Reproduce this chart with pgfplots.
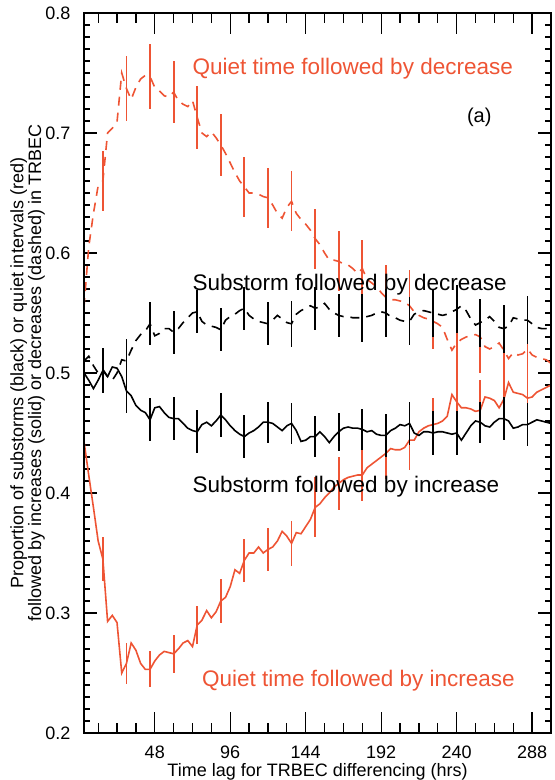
\documentclass[border=0pt]{standalone}
\usepackage{fontspec}
\setmainfont{Liberation Sans}
\usepackage{pgfplots}
\usepackage{pgfplotstable}
\pgfplotsset{compat=1.18}
\definecolor{qred}{RGB}{238,84,52}

% lag (hrs), black solid, black dashed, red solid, red dashed
\pgfplotstableread{
x bs bd rs rd
3 0.500 0.510 0.443 0.555
6 0.494 0.514 0.415 0.605
9 0.487 0.506 0.388 0.633
12 0.494 0.500 0.360 0.656
15 0.502 0.503 0.345 0.660
18 0.497 0.497 0.293 0.700
21 0.505 0.494 0.298 0.704
24 0.504 0.500 0.292 0.709
27 0.497 0.511 0.250 0.750
30 0.485 0.510 0.258 0.737
33 0.481 0.519 0.275 0.728
36 0.473 0.527 0.269 0.738
39 0.469 0.532 0.258 0.745
42 0.467 0.535 0.253 0.748
45 0.461 0.541 0.253 0.747
48 0.471 0.531 0.260 0.738
51 0.472 0.533 0.265 0.735
54 0.467 0.537 0.268 0.731
57 0.463 0.537 0.267 0.730
60 0.462 0.534 0.266 0.734
63 0.462 0.537 0.270 0.727
66 0.458 0.542 0.275 0.724
69 0.454 0.546 0.277 0.722
72 0.452 0.550 0.272 0.727
75 0.451 0.551 0.290 0.713
78 0.457 0.543 0.294 0.700
81 0.459 0.540 0.302 0.697
84 0.456 0.539 0.296 0.701
87 0.460 0.538 0.301 0.696
90 0.465 0.536 0.310 0.690
93 0.461 0.544 0.313 0.683
96 0.456 0.547 0.322 0.675
99 0.452 0.549 0.336 0.667
102 0.449 0.552 0.333 0.660
105 0.447 0.554 0.344 0.655
108 0.450 0.548 0.350 0.650
111 0.452 0.545 0.350 0.650
114 0.455 0.543 0.355 0.649
117 0.459 0.542 0.350 0.647
120 0.459 0.541 0.353 0.646
123 0.458 0.544 0.355 0.640
126 0.455 0.548 0.360 0.633
129 0.452 0.545 0.368 0.629
132 0.456 0.542 0.364 0.638
135 0.458 0.541 0.358 0.643
138 0.452 0.549 0.367 0.633
141 0.443 0.552 0.366 0.628
144 0.444 0.554 0.372 0.624
147 0.447 0.556 0.378 0.619
150 0.447 0.554 0.388 0.612
153 0.451 0.555 0.391 0.607
156 0.447 0.558 0.396 0.600
159 0.442 0.553 0.400 0.594
162 0.447 0.550 0.405 0.594
165 0.451 0.548 0.408 0.593
168 0.454 0.547 0.411 0.591
171 0.455 0.547 0.413 0.590
174 0.454 0.546 0.414 0.587
177 0.454 0.546 0.415 0.583
180 0.453 0.546 0.415 0.587
183 0.451 0.547 0.421 0.578
186 0.452 0.548 0.424 0.575
189 0.449 0.550 0.427 0.572
192 0.448 0.551 0.430 0.567
195 0.448 0.550 0.433 0.563
198 0.452 0.547 0.437 0.561
201 0.454 0.546 0.436 0.561
204 0.457 0.544 0.436 0.560
207 0.456 0.543 0.438 0.559
210 0.458 0.543 0.444 0.556
213 0.450 0.549 0.444 0.551
216 0.448 0.551 0.451 0.548
219 0.451 0.552 0.454 0.546
222 0.451 0.551 0.456 0.545
225 0.450 0.550 0.457 0.543
228 0.451 0.549 0.458 0.541
231 0.451 0.548 0.460 0.538
234 0.450 0.549 0.464 0.528
237 0.449 0.551 0.482 0.519
240 0.450 0.553 0.476 0.525
243 0.444 0.556 0.471 0.528
246 0.450 0.552 0.471 0.530
249 0.456 0.545 0.470 0.531
252 0.460 0.540 0.468 0.532
255 0.459 0.542 0.469 0.530
258 0.456 0.544 0.480 0.522
261 0.455 0.547 0.479 0.520
264 0.459 0.543 0.477 0.522
267 0.462 0.538 0.471 0.525
270 0.462 0.537 0.478 0.519
273 0.460 0.539 0.492 0.512
276 0.454 0.546 0.484 0.517
279 0.455 0.545 0.483 0.515
282 0.457 0.544 0.482 0.516
285 0.457 0.544 0.479 0.520
288 0.459 0.541 0.480 0.515
291 0.461 0.538 0.484 0.513
294 0.460 0.537 0.486 0.512
297 0.459 0.537 0.488 0.511
300 0.458 0.536 0.490 0.508
}\lines

% error bars every 15 hrs
\pgfplotstableread{
x bs bse bd bde rs rse rd rde
15 0.502 0.019 0.503 0.018 0.345 0.018 0.660 0.025
30 0.485 0.018 0.510 0.018 0.258 0.017 0.737 0.027
45 0.461 0.018 0.541 0.018 0.253 0.015 0.747 0.027
60 0.462 0.018 0.534 0.018 0.266 0.016 0.734 0.026
75 0.451 0.018 0.551 0.018 0.290 0.016 0.713 0.026
90 0.465 0.018 0.536 0.018 0.310 0.018 0.690 0.026
105 0.447 0.018 0.554 0.018 0.344 0.018 0.655 0.025
120 0.459 0.017 0.541 0.018 0.353 0.018 0.646 0.025
135 0.458 0.017 0.541 0.019 0.358 0.019 0.643 0.025
150 0.447 0.017 0.554 0.018 0.388 0.025 0.612 0.025
165 0.451 0.016 0.548 0.018 0.408 0.022 0.593 0.025
180 0.453 0.017 0.546 0.020 0.415 0.022 0.587 0.024
195 0.448 0.018 0.550 0.020 0.433 0.021 0.563 0.027
210 0.458 0.018 0.543 0.020 0.444 0.025 0.556 0.030
225 0.450 0.018 0.550 0.020 0.457 0.022 0.543 0.023
240 0.450 0.018 0.553 0.020 0.476 0.040 0.525 0.040
255 0.459 0.017 0.542 0.020 0.469 0.025 0.530 0.030
270 0.462 0.018 0.537 0.020 0.478 0.030 0.519 0.030
285 0.457 0.018 0.544 0.020 0.479 0.035 0.520 0.035
}\bars

\pgfplotsset{
  box/.style={width=467pt, height=720pt, scale only axis,
    xmin=3, xmax=300, ymin=0.2, ymax=0.8,
    axis line style={line width=1.3pt},
    tick align=inside},
  bar/.style={draw=none, forget plot, error bars/.cd, y dir=both, y explicit,
    error mark=none, error bar style={draw=#1, line width=1.8pt, solid}},
}

\begin{document}
\begin{tikzpicture}
\begin{axis}[box,
  xtick={48,96,...,288}, xtick style={draw=none},
  ytick={0.2,0.3,...,0.8}, minor y tick num=9,
  ytick style={line width=1.3pt, black},
  major tick length=13pt, minor tick length=6pt,
  ticklabel style={font=\fontsize{18}{20}\selectfont},
  /pgf/number format/assume math mode=true,
  xticklabel style={inner sep=0pt, yshift=-13pt},
  yticklabel style={xshift=-10pt, /pgf/number format/.cd, fixed, fixed zerofill, precision=1},
  every axis x label/.style={at={([yshift=-43pt]axis description cs:0.5,0)}, anchor=base,
    inner sep=0pt, font=\fontsize{18}{20}\selectfont},
  every axis y label/.style={at={([xshift=-39pt]axis description cs:0,0.5)}, anchor=south,
    rotate=90, inner sep=0pt, align=center, font=\fontsize{18}{16}\selectfont},
  xlabel={Time lag for TRBEC differencing (hrs)},
  ylabel={Proportion of substorms (black) or quiet intervals (red)\\followed by increases (solid) or decreases (dashed) in TRBEC},
]
\addplot[qred, line width=1.6pt] table[x=x, y=rs] {\lines};
\addplot[qred, line width=1.6pt, dash pattern=on 9pt off 7pt] table[x=x, y=rd] {\lines};
\addplot[bar=qred] table[x=x, y=rs, y error=rse] {\bars};
\addplot[bar=qred] table[x=x, y=rd, y error=rde] {\bars};
\addplot[black, line width=1.6pt] table[x=x, y=bs] {\lines};
\addplot[black, line width=1.6pt, dash pattern=on 9pt off 7pt] table[x=x, y=bd] {\lines};
\addplot[bar=black] table[x=x, y=bs, y error=bse] {\bars};
\addplot[bar=black] table[x=x, y=bd, y error=bde] {\bars};

\node[anchor=base west, inner sep=0pt, text=qred, font=\fontsize{22.5}{27}\selectfont]
  at (axis cs:72,0.749) {Quiet time followed by decrease};
\node[anchor=base west, inner sep=0pt, font=\fontsize{20}{24}\selectfont]
  at (axis cs:246.5,0.709) {(a)};
\node[anchor=base west, inner sep=0pt, font=\fontsize{22.5}{27}\selectfont]
  at (axis cs:72,0.569) {Substorm followed by decrease};
\node[anchor=base west, inner sep=0pt, font=\fontsize{22.5}{27}\selectfont]
  at (axis cs:72,0.400) {Substorm followed by increase};
\node[anchor=base west, inner sep=0pt, text=qred, font=\fontsize{22.5}{27}\selectfont]
  at (axis cs:78,0.239) {Quiet time followed by increase};
\end{axis}
% second frame only for the longer x ticks
\begin{axis}[box,
  xtick={48,96,...,288}, minor xtick={12,24,...,300}, xticklabels={},
  ytick=\empty,
  xtick style={line width=1.3pt, black},
  major tick length=21pt, minor tick length=10pt,
]
\end{axis}
\pgfresetboundingbox
\path[use as bounding box] ([shift={(-84pt,-47pt)}]current axis.south west)
  rectangle ([shift={(3pt,13pt)}]current axis.north east);
\end{tikzpicture}
\end{document}
